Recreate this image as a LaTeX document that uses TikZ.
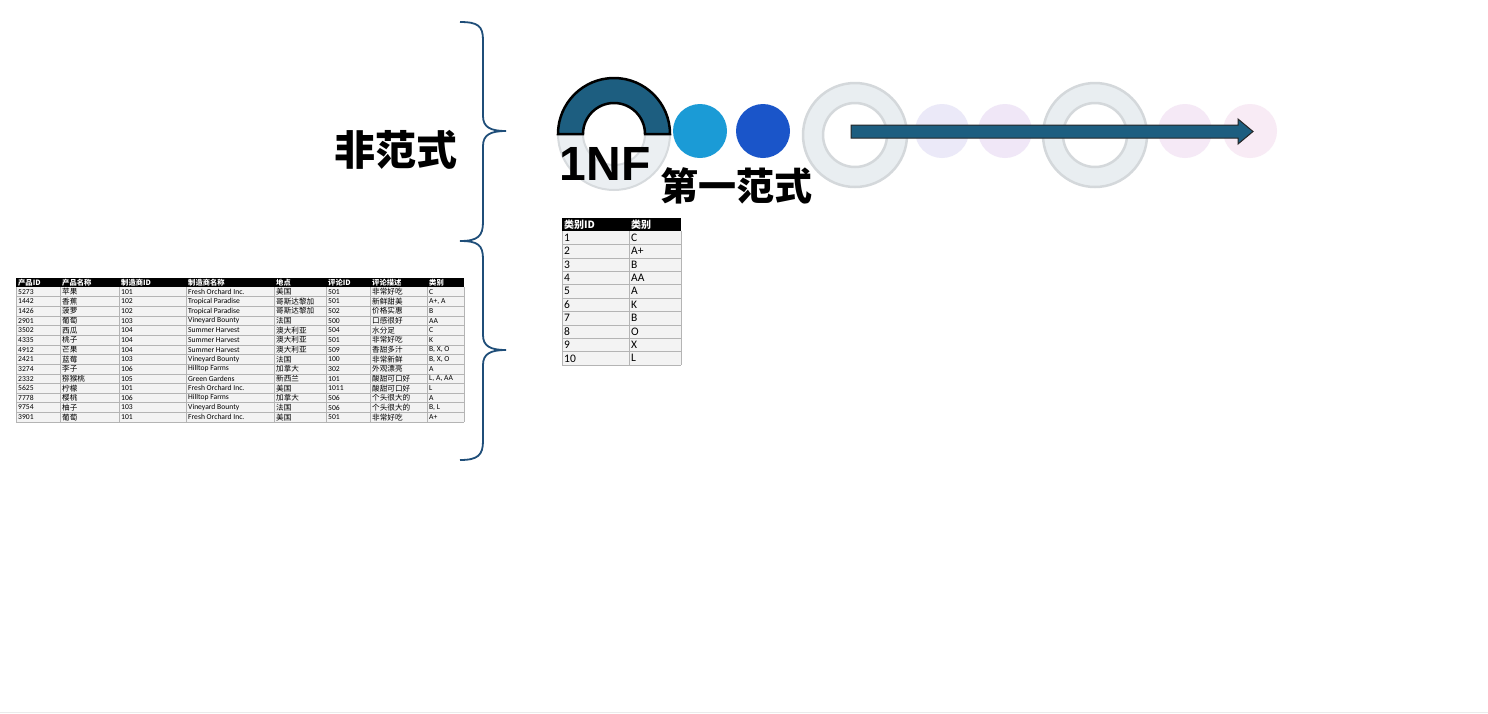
\documentclass[tikz,border=0pt]{standalone}
\usepackage{fontspec}
\setmainfont{Carlito}
\newfontfamily\cjk{Noto Sans CJK SC}
\newfontfamily\heavy{Liberation Sans}
\definecolor{braceblue}{HTML}{1F4E79}
\definecolor{ringteal}{HTML}{1D5E80}
\definecolor{ringfill}{HTML}{E9EEF1}
\definecolor{ringline}{HTML}{D4D8DB}
\definecolor{rowgray}{HTML}{F3F3F3}
\definecolor{gridgray}{HTML}{B4B4B4}
\begin{document}
\begin{tikzpicture}[
 x=1pt,y=-1pt,
 every node/.style={inner sep=0pt},
 cell/.style={anchor=west,font=\fontsize{7.6}{8}\selectfont},
 headcell/.style={anchor=west,text=white,font=\fontsize{7.3}{8}\selectfont\cjk\bfseries},
 bigcell/.style={anchor=west,font=\fontsize{11.5}{12}\selectfont},
 bighead/.style={anchor=west,text=white,font=\fontsize{10}{11}\selectfont\cjk\bfseries},
 gridline/.style={gridgray,line width=0.5pt},
 ring/.style={fill=ringfill,draw=ringline,line width=2.5pt,even odd rule},
 dot/.style={circle,minimum size=54pt}
]
 \useasboundingbox (0,0) rectangle (1488,713);
 \fill[white] (0,0) rectangle (1488,713);
 \draw[black!8] (0,712) -- (1488,712);

 % two braces on the left
 \foreach \o in {0,219}
  \draw[braceblue,line width=1.8pt]
   (460,22+\o) .. controls (478,22+\o) and (483,26+\o) .. (483,40+\o)
   -- (483,116+\o) .. controls (483,127+\o) and (490,131+\o) .. (506,131+\o)
   .. controls (490,131+\o) and (483,135+\o) .. (483,146+\o)
   -- (483,222+\o) .. controls (483,236+\o) and (478,241+\o) .. (460,241+\o);

 \node[font=\fontsize{41}{41}\selectfont\cjk\bfseries] (unf) at (396,150) {非范式};

 % unnormalised table
 \fill[rowgray] (16,287) rectangle (464,422);
 \fill[black] (16,278) rectangle (464,287);
 \foreach \x/\t [count=\j] in {16/产品ID,60/产品名称,119/制造商ID,186/制造商名称,
   274/地点,326/评论ID,370/评论描述,427/类别}
  \node[headcell] (LH\j) at (\x+2,282.5) {\t};
 \foreach \a/\b/\c/\d/\e/\f/\g/\h [count=\i] in {
   5273/苹果/101/Fresh Orchard Inc./美国/501/非常好吃/C,
   1442/香蕉/102/Tropical Paradise/哥斯达黎加/501/新鲜甜美/{A+, A},
   1426/菠萝/102/Tropical Paradise/哥斯达黎加/502/价格实惠/B,
   2901/葡萄/103/Vineyard Bounty/法国/500/口感很好/AA,
   3502/西瓜/104/Summer Harvest/澳大利亚/504/水分足/C,
   4335/桃子/104/Summer Harvest/澳大利亚/501/非常好吃/K,
   4912/芒果/104/Summer Harvest/澳大利亚/509/香甜多汁/{B, X, O},
   2421/蓝莓/103/Vineyard Bounty/法国/100/非常新鲜/{B, X, O},
   3274/李子/106/Hilltop Farms/加拿大/302/外观漂亮/A,
   2332/猕猴桃/105/Green Gardens/新西兰/101/酸甜可口好/{L, A, AA},
   5625/柠檬/101/Fresh Orchard Inc./美国/1011/酸甜可口好/L,
   7778/樱桃/106/Hilltop Farms/加拿大/506/个头很大的/A,
   9754/柚子/103/Vineyard Bounty/法国/506/个头很大的/{B, L},
   3901/葡萄/101/Fresh Orchard Inc./美国/501/非常好吃/A+}{
  \node[cell] (L\i-1) at (18,{287+(\i-0.5)*9.64}) {\a};
  \node[cell] (L\i-2) at (62,{287+(\i-0.5)*9.64}) {\cjk\b};
  \node[cell] (L\i-3) at (121,{287+(\i-0.5)*9.64}) {\c};
  \node[cell] (L\i-4) at (188,{287+(\i-0.5)*9.64}) {\d};
  \node[cell] (L\i-5) at (276,{287+(\i-0.5)*9.64}) {\cjk\e};
  \node[cell] (L\i-6) at (328,{287+(\i-0.5)*9.64}) {\f};
  \node[cell] (L\i-7) at (372,{287+(\i-0.5)*9.64}) {\cjk\g};
  \node[cell] (L\i-8) at (429,{287+(\i-0.5)*9.64}) {\h};
 }
 \foreach \i in {1,...,14}
  \draw[gridline] (16,{287+\i*9.64}) -- (464,{287+\i*9.64});
 \foreach \x in {16,60,119,186,274,326,370,427,464}
  \draw[gridline] (\x,287) -- (\x,422);

 % steps along the top
 \filldraw[fill=ringfill,draw=ringline,line width=2pt,opacity=0.9]
  (558,134) arc[start angle=180,end angle=0,radius=56]
  -- (645,134) arc[start angle=0,end angle=180,radius=31] -- cycle;
 \filldraw[fill=ringteal,draw=black,line width=2.5pt]
  (558,134) arc[start angle=180,end angle=360,radius=56]
  -- (645,134) arc[start angle=0,end angle=-180,radius=31] -- cycle;
 \node[dot,fill={rgb,255:red,27;green,155;blue,214}] (s1) at (700,131) {};
 \node[dot,fill={rgb,255:red,26;green,85;blue,201}] (s2) at (763,131) {};
 \path[ring] (855,135) circle[radius=52] circle[radius=32];
 \node[dot,fill={rgb,255:red,235;green,233;blue,248}] (s3) at (942,131) {};
 \node[dot,fill={rgb,255:red,240;green,231;blue,247}] (s4) at (1005,131) {};
 \path[ring] (1095,135) circle[radius=52] circle[radius=32];
 \node[dot,fill={rgb,255:red,245;green,233;blue,246}] (s5) at (1185,131) {};
 \node[dot,fill={rgb,255:red,248;green,235;blue,245}] (s6) at (1250,131) {};

 \filldraw[fill=ringteal,draw=black!85,line width=1pt]
  (851,125) -- (1238,125) -- (1238,119) -- (1253,131.5)
  -- (1238,144) -- (1238,138) -- (851,138) -- cycle;

 \node[font=\fontsize{48}{48}\selectfont\heavy\bfseries] (nf) at (605,164) {1NF};
 \node[font=\fontsize{38}{38}\selectfont\cjk\bfseries] (fnf) at (736,186) {第一范式};

 % category table
 \fill[rowgray] (562,231) rectangle (681,365);
 \fill[black] (562,218) rectangle (681,231);
 \node[bighead] (RH1) at (564,224.5) {类别ID};
 \node[bighead] (RH2) at (631,224.5) {类别};
 \foreach \a/\b [count=\i] in {1/C,2/A+,3/B,4/AA,5/A,6/K,7/B,8/O,9/X,10/L}{
  \node[bigcell] (R\i-1) at (564,{231+(\i-0.5)*13.4}) {\a};
  \node[bigcell] (R\i-2) at (631,{231+(\i-0.5)*13.4}) {\b};
 }
 \foreach \i in {1,...,10}
  \draw[gridline] (562,{231+\i*13.4}) -- (681,{231+\i*13.4});
 \foreach \x in {562,629,681}
  \draw[gridline] (\x,231) -- (\x,365);
\end{tikzpicture}
\end{document}
